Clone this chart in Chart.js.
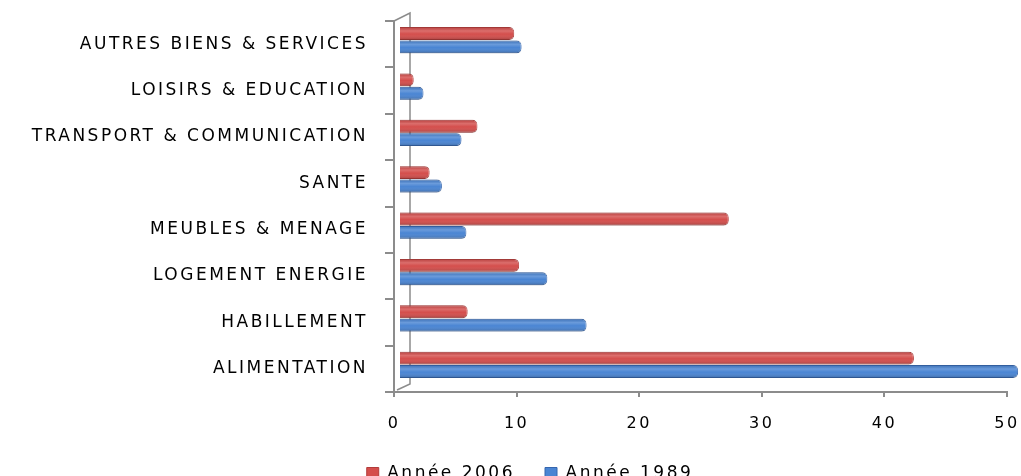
<!DOCTYPE html>
<html>
<head>
<meta charset="utf-8">
<script src="https://cdn.jsdelivr.net/npm/chart.js@4.4.1/dist/chart.umd.min.js"></script>
<style>
  html, body { margin: 0; padding: 0; background: #ffffff; overflow: hidden; }
  #wrap { position: relative; width: 1021px; height: 492px; }
</style>
</head>
<body>
<div id="wrap"><canvas id="c"></canvas></div>
<script>
// Categories (top to bottom)
const categories = [
  'AUTRES BIENS & SERVICES',
  'LOISIRS & EDUCATION',
  'TRANSPORT & COMMUNICATION',
  'SANTE',
  'MEUBLES & MENAGE',
  'LOGEMENT ENERGIE',
  'HABILLEMENT',
  'ALIMENTATION'
];
const seriesNames = ['Année 2006', 'Année 1989'];
const values2006 = [9.4, 1.2, 6.4, 2.5, 26.9, 9.8, 5.6, 42.0];
const values1989 = [10.0, 2.0, 5.1, 3.5, 5.5, 12.1, 15.3, 50.5];
const xTicks = [0, 10, 20, 30, 40, 50];

const AXIS = '#8c8c8c';
const SPACING = '2.5px';
const LEGEND_LEFT = 53;

// wide, spaced lettering like the reference
const spacingPlugin = {
  id: 'spacing',
  beforeUpdate(chart) { chart.ctx.letterSpacing = SPACING; },
  beforeLayout(chart) { chart.ctx.letterSpacing = SPACING; },
  afterLayout(chart) { if (chart.legend) chart.legend.left = LEGEND_LEFT; },
  beforeDraw(chart) { chart.ctx.letterSpacing = SPACING; }
};

// 3D-ish back wall lines derived from the chart area
const wallPlugin = {
  id: 'wall',
  beforeDatasetsDraw(chart) {
    const {ctx, chartArea: a} = chart;
    const dx = 16, dy = 8;
    ctx.save();
    ctx.strokeStyle = AXIS;
    ctx.lineWidth = 1.5;
    ctx.beginPath();
    ctx.moveTo(a.left, a.top);
    ctx.lineTo(a.left + dx, a.top - dy);
    ctx.lineTo(a.left + dx, a.bottom - dy);
    ctx.lineTo(a.left + 3, a.bottom - 2);
    ctx.stroke();
    ctx.restore();
  }
};

// depth offset of the bars + cylindrical shading, using the library's element geometry
const DEPTH = { dx: 5, dy: -4 };
const shadePlugin = {
  id: 'shade',
  beforeDatasetsDraw(chart) {
    chart.ctx.save();
    chart.ctx.translate(DEPTH.dx, DEPTH.dy);
  },
  afterDatasetsDraw(chart) {
    const ctx = chart.ctx;
    chart.data.datasets.forEach((ds, i) => {
      const meta = chart.getDatasetMeta(i);
      meta.data.forEach(el => {
        const top = el.y - el.height / 2, h = el.height;
        const x0 = Math.min(el.base, el.x), w = Math.abs(el.x - el.base);
        const g = ctx.createLinearGradient(0, top, 0, top + h);
        g.addColorStop(0, 'rgba(0,0,0,0.10)');
        g.addColorStop(0.3, 'rgba(255,255,255,0.18)');
        g.addColorStop(0.55, 'rgba(255,255,255,0.0)');
        g.addColorStop(1, 'rgba(0,0,0,0.22)');
        ctx.save();
        ctx.fillStyle = g;
        ctx.beginPath();
        const r = Math.min(5, w / 2);
        ctx.moveTo(x0, top);
        ctx.lineTo(x0 + w - r, top);
        ctx.quadraticCurveTo(x0 + w, top, x0 + w, top + r);
        ctx.lineTo(x0 + w, top + h - r);
        ctx.quadraticCurveTo(x0 + w, top + h, x0 + w - r, top + h);
        ctx.lineTo(x0, top + h);
        ctx.closePath();
        ctx.fill();
        ctx.restore();
      });
    });
    ctx.restore();
  }
};

new Chart(document.getElementById('c'), {
  type: 'bar',
  data: {
    labels: categories,
    datasets: [
      {
        label: seriesNames[0],
        data: values2006,
        backgroundColor: '#D44E4C',
        borderColor: '#B23C3A',
        borderWidth: 1,
        borderRadius: 5,
        borderSkipped: 'start',
        barPercentage: 0.96,
        categoryPercentage: 0.58,
        clip: false
      },
      {
        label: seriesNames[1],
        data: values1989,
        backgroundColor: '#4A85D3',
        borderColor: '#3566AE',
        borderWidth: 1,
        borderRadius: 5,
        borderSkipped: 'start',
        barPercentage: 0.96,
        categoryPercentage: 0.58,
        clip: false
      }
    ]
  },
  options: {
    indexAxis: 'y',
    responsive: true,
    maintainAspectRatio: false,
    animation: false,
    layout: { padding: { left: 0, right: 14, top: 21, bottom: 0 } },
    plugins: {
      tooltip: { enabled: false },
      legend: {
        position: 'bottom',
        labels: {
          boxWidth: 12,
          boxHeight: 12,
          padding: 30,
          color: '#000',
          font: { family: 'DejaVu Sans', size: 17 }
        }
      }
    },
    scales: {
      x: {
        type: 'linear',
        min: 0,
        max: 50,
        afterBuildTicks(scale) { scale.ticks = xTicks.map(v => ({ value: v })); },
        afterFit(scale) { scale.height = 43; scale.paddingLeft = 0; scale.paddingRight = 0; },
        border: { display: true, color: AXIS, width: 2 },
        grid: { display: true, drawOnChartArea: false, drawTicks: true, tickLength: 5, color: AXIS, lineWidth: 2 },
        ticks: { color: '#000', padding: 17, font: { family: 'DejaVu Sans', size: 16 } }
      },
      y: {
        afterFit(scale) { scale.width = 394; scale.paddingTop = 0; scale.paddingBottom = 0; },
        border: { display: true, color: AXIS, width: 2 },
        grid: { display: true, drawOnChartArea: false, drawTicks: true, tickLength: 9, color: AXIS, lineWidth: 2, offset: true },
        ticks: { color: '#000', padding: 17, font: { family: 'DejaVu Sans', size: 17 } }
      }
    }
  },
  plugins: [spacingPlugin, wallPlugin, shadePlugin]
});
</script>
</body>
</html>
